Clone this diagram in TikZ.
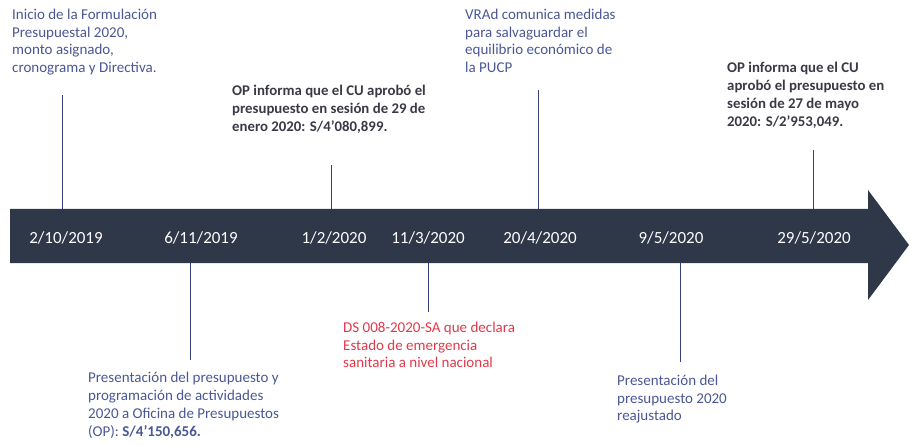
\documentclass[tikz,border=0pt]{standalone}
\usepackage{fontspec}
\setmainfont{Carlito}
\usepackage{xcolor}
\definecolor{barcol}{HTML}{2E3849}
\definecolor{txtblue}{HTML}{4A5794}
\definecolor{txtgray}{HTML}{3A3A46}
\definecolor{txtred}{HTML}{E2394A}
\definecolor{tickcol}{HTML}{35407A}
\tikzset{
  evtext/.style={anchor=north west,inner sep=0pt,align=left,font=\fontsize{15}{17.5}\selectfont},
  evbold/.style={evtext,text=txtgray,font=\fontsize{14.8}{18}\selectfont\bfseries},
  datelbl/.style={text=white,inner sep=0pt,font=\fontsize{17}{19}\selectfont},
  tick/.style={draw=tickcol,line width=0.8pt}
}
\begin{document}
\begin{tikzpicture}[x=1pt,y=-1pt]
        \useasboundingbox (0,0) rectangle (909,446);
        % timeline bar
        \fill[barcol] (10,209) -- (868,209) -- (868,190) -- (909,245)
            -- (868,300) -- (868,263) -- (10,263) -- cycle;
        % dates
        \draw (66,238) node[datelbl](d1) {2/10/2019};
        \draw (201,238) node[datelbl](d2) {6/11/2019};
        \draw (334,238) node[datelbl](d3) {1/2/2020};
        \draw (428,238) node[datelbl](d4) {11/3/2020};
        \draw (540,238) node[datelbl](d5) {20/4/2020};
        \draw (671,238) node[datelbl](d6) {9/5/2020};
        \draw (814,238) node[datelbl](d7) {29/5/2020};
        % tick ends
        \coordinate (b1) at (62,209);  \coordinate (e1) at (62,95);
        \coordinate (b2) at (190,263); \coordinate (e2) at (190,360);
        \coordinate (b3) at (331,209); \coordinate (e3) at (331,165);
        \coordinate (b4) at (428,263); \coordinate (e4) at (428,312);
        \coordinate (b5) at (538,209); \coordinate (e5) at (538,90);
        \coordinate (b6) at (680,263); \coordinate (e6) at (680,362);
        \coordinate (b7) at (813,209); \coordinate (e7) at (813,150);
        \draw[tick] (b1) -- (e1);
        \draw[tick] (b2) -- (e2);
        \draw[tick] (b3) -- (e3);
        \draw[tick] (b4) -- (e4);
        \draw[tick] (b5) -- (e5);
        \draw[tick] (b6) -- (e6);
        \draw[tick] (b7) -- (e7);
        % events above
        \draw (12,9) node[evtext,text=txtblue](ev1) {Inicio de la Formulación\\Presupuestal 2020,\\monto asignado,\\cronograma y Directiva.};
        \draw (232,85) node[evbold](ev3) {OP informa que el CU aprobó el\\presupuesto en sesión de 29 de\\enero 2020: S/4’080,899.};
        \draw (465,9) node[evtext,text=txtblue](ev5) {VRAd comunica medidas\\para salvaguardar el\\equilibrio económico de\\la PUCP};
        \draw (727,62) node[evbold](ev7) {OP informa que el CU\\aprobó el presupuesto en\\sesión de 27 de mayo\\2020: S/2’953,049.};
        % events below
        \draw (88,372) node[evtext,text=txtblue,font=\fontsize{15}{18}\selectfont](ev2) {Presentación del presupuesto y\\programación de actividades\\2020 a Oficina de Presupuestos\\(OP): \textbf{S/4’150,656.}};
        \draw (343,322) node[evtext,text=txtred](ev4) {DS 008-2020-SA que declara\\Estado de emergencia\\sanitaria a nivel nacional};
        \draw (617,375) node[evtext,text=txtblue](ev6) {Presentación del\\presupuesto 2020\\reajustado};
    \end{tikzpicture}
\end{document}
